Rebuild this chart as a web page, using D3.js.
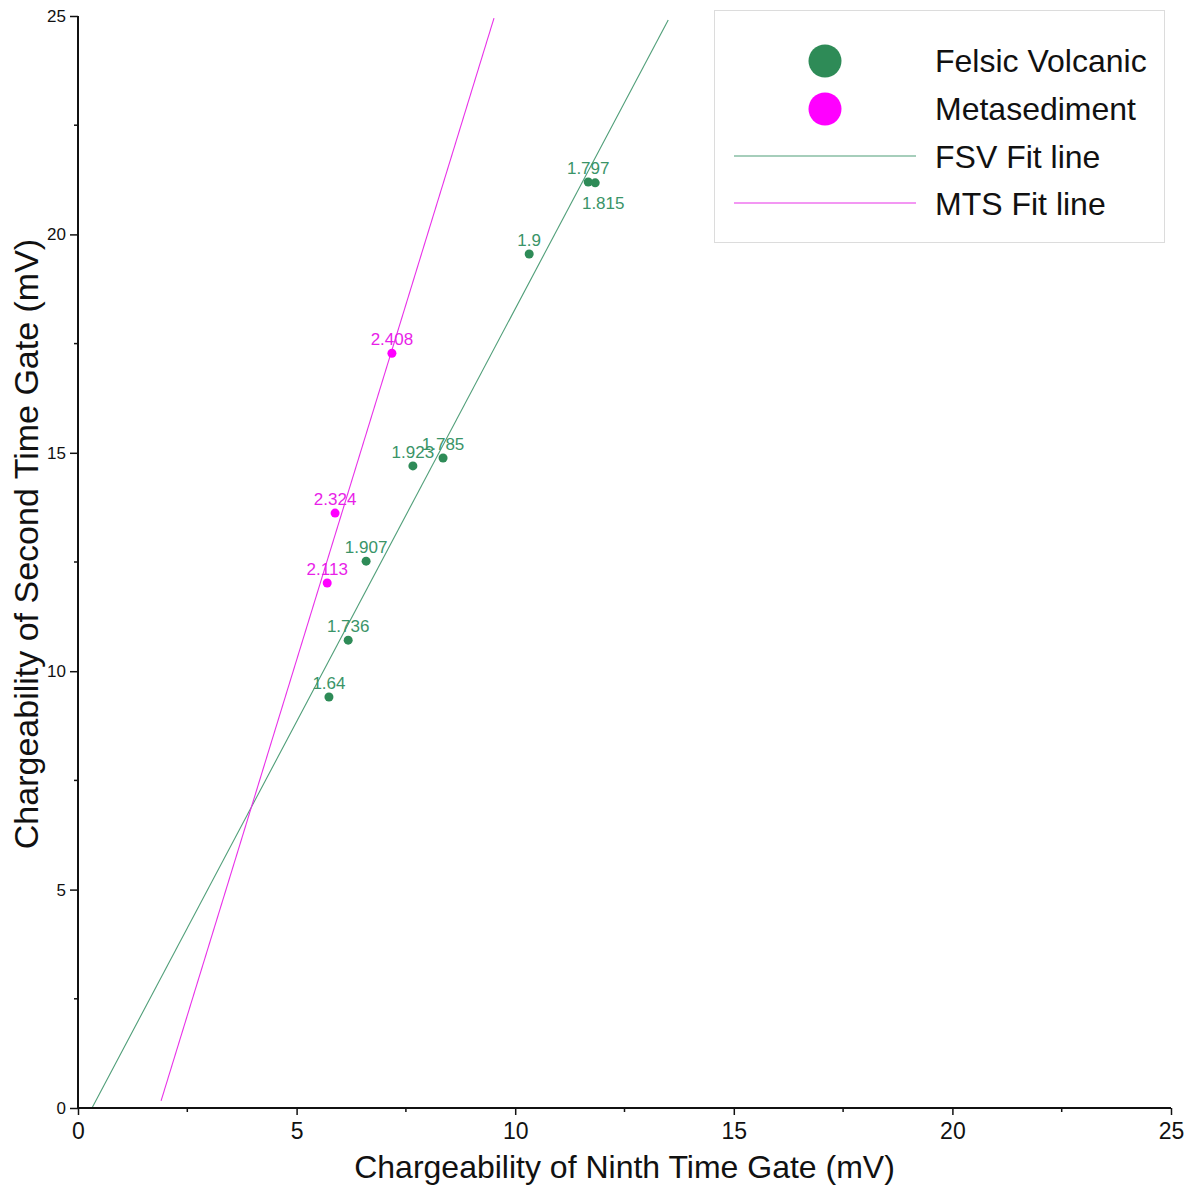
<!DOCTYPE html>
<html><head><meta charset="utf-8">
<script src="https://cdn.jsdelivr.net/npm/d3@7"></script>
<style>
html,body{margin:0;padding:0;background:#fff;}
svg{display:block;font-family:"Liberation Sans",Arial,sans-serif;}
</style></head>
<body><svg id="chart" width="1197" height="1187"></svg>
<script>
// Felsic Volcanic (FSV) samples
const fsvX = [5.74, 6.18, 6.59, 7.66, 8.35, 10.32, 11.67, 11.83];
const fsvY = [9.41, 10.71, 12.52, 14.70, 14.88, 19.55, 21.20, 21.18];
const fsvLabels = ["1.64", "1.736", "1.907", "1.923", "1.785", "1.9", "1.797", "1.815"];
const fsvLabelSide = ["above", "above", "above", "above", "above", "above", "above", "below"];
// Metasediment (MTS) samples
const mtsX = [7.18, 5.88, 5.70];
const mtsY = [17.28, 13.62, 12.02];
const mtsLabels = ["2.408", "2.324", "2.113"];
const mtsLabelSide = ["above", "above", "above"];
// Fit lines: [x start, x end], slope, intercept
const fsvFitX = [0.32, 13.5];
const fsvFitSlope = 1.89, fsvFitIntercept = -0.605;
const mtsFitX = [1.90, 9.515];
const mtsFitSlope = 3.255, mtsFitIntercept = -6.02;
// Axes
const xTicks = [0, 5, 10, 15, 20, 25];
const yTicks = [0, 5, 10, 15, 20, 25];
const minorTicks = [2.5, 7.5, 12.5, 17.5, 22.5];
const legendItems = ["Felsic Volcanic", "Metasediment", "FSV Fit line", "MTS Fit line"];

const GREEN = "#2e8b57", MAG = "#ff00ff";
const GREEN_LINE = "#4f9e78", MAG_LINE = "#e830e8";
const GREEN_TXT = "#3a9468", MAG_TXT = "#e81ee8";

const W = 1197, H = 1187;
const m = {left: 78, right: 26, top: 16, bottom: 79};
const svg = d3.select("#chart");
const x = d3.scaleLinear().domain([0, 25]).range([m.left, W - m.right]);
const y = d3.scaleLinear().domain([0, 25]).range([H - m.bottom, m.top]);

// fit lines
const line = d3.line().x(d => x(d[0])).y(d => y(d[1]));
function fitPts(xr, s, b) { return xr.map(v => [v, s * v + b]); }
svg.append("path").attr("d", line(fitPts(fsvFitX, fsvFitSlope, fsvFitIntercept)))
  .attr("fill", "none").attr("stroke", GREEN_LINE).attr("stroke-width", 1.1);
svg.append("path").attr("d", line(fitPts(mtsFitX, mtsFitSlope, mtsFitIntercept)))
  .attr("fill", "none").attr("stroke", MAG_LINE).attr("stroke-width", 1.1);

// axes
const xAxis = svg.append("g").attr("transform", `translate(0,${H - m.bottom})`)
  .call(d3.axisBottom(x).tickValues(xTicks).tickSize(7).tickPadding(8).tickFormat(d3.format("d")));
const yAxis = svg.append("g").attr("transform", `translate(${m.left},0)`)
  .call(d3.axisLeft(y).tickValues(yTicks).tickSize(8).tickPadding(4).tickFormat(d3.format("d")));
[xAxis, yAxis].forEach(g => {
  g.select(".domain").attr("stroke", "#111").attr("stroke-width", 2);
  g.selectAll(".tick line").attr("stroke", "#111").attr("stroke-width", 1.5);
  g.selectAll("text").attr("fill", "#111").attr("font-family", "Liberation Sans, Arial, sans-serif");
});
xAxis.selectAll("text").attr("font-size", 23);
yAxis.selectAll("text").attr("font-size", 17);
xAxis.select(".domain").attr("d", `M${x(0)},0H${x(25)}`);
yAxis.select(".domain").attr("d", `M0,${y(0)}V${y(25)}`);
// minor ticks
xAxis.selectAll(".minor").data(minorTicks).enter().append("line")
  .attr("x1", d => x(d)).attr("x2", d => x(d)).attr("y1", 0).attr("y2", 4)
  .attr("stroke", "#111").attr("stroke-width", 1.5);
yAxis.selectAll(".minor").data(minorTicks).enter().append("line")
  .attr("y1", d => y(d)).attr("y2", d => y(d)).attr("x1", 0).attr("x2", -4)
  .attr("stroke", "#111").attr("stroke-width", 1.5);

// axis titles
svg.append("text").attr("x", (x(0) + x(25)) / 2).attr("y", 1178)
  .attr("text-anchor", "middle").attr("font-size", 32).attr("fill", "#111")
  .text("Chargeability of Ninth Time Gate (mV)");
svg.append("text").attr("transform", `translate(38,${(y(0) + y(25)) / 2 - 18}) rotate(-90)`)
  .attr("text-anchor", "middle").attr("font-size", 34).attr("fill", "#111")
  .text("Chargeability of Second Time Gate (mV)");

// points + labels
function drawSeries(xs, ys, labels, sides, color, txtColor) {
  const data = xs.map((v, i) => ({x: v, y: ys[i], label: labels[i], side: sides[i]}));
  svg.append("g").selectAll("circle").data(data).enter().append("circle")
    .attr("cx", d => x(d.x)).attr("cy", d => y(d.y)).attr("r", 4.5).attr("fill", color);
  svg.append("g").selectAll("text").data(data).enter().append("text")
    .attr("x", d => x(d.x) + (d.side === "below" ? 8 : 0))
    .attr("y", d => y(d.y) + (d.side === "below" ? 26 : -8))
    .attr("text-anchor", "middle").attr("font-size", 17).attr("fill", txtColor)
    .text(d => d.label);
}
drawSeries(fsvX, fsvY, fsvLabels, fsvLabelSide, GREEN, GREEN_TXT);
drawSeries(mtsX, mtsY, mtsLabels, mtsLabelSide, MAG, MAG_TXT);

// legend
const lg = svg.append("g");
lg.append("rect").attr("x", 714.5).attr("y", 10.5).attr("width", 450).attr("height", 232)
  .attr("fill", "#fff").attr("stroke", "#dcdcdc").attr("stroke-width", 1);
const rowY = [61, 109, 157, 204];
lg.append("circle").attr("cx", 825).attr("cy", rowY[0]).attr("r", 16.5).attr("fill", GREEN);
lg.append("circle").attr("cx", 825).attr("cy", rowY[1]).attr("r", 16.5).attr("fill", MAG);
lg.append("line").attr("x1", 734).attr("x2", 916).attr("y1", rowY[2] - 1).attr("y2", rowY[2] - 1)
  .attr("stroke", GREEN_LINE).attr("stroke-width", 1.1);
lg.append("line").attr("x1", 734).attr("x2", 916).attr("y1", rowY[3] - 1).attr("y2", rowY[3] - 1)
  .attr("stroke", MAG_LINE).attr("stroke-width", 1.1);
lg.selectAll("text.leg").data(legendItems).enter().append("text")
  .attr("x", 935).attr("y", (d, i) => rowY[i] + 11)
  .attr("font-size", 32).attr("fill", "#111").text(d => d);
</script></body></html>
